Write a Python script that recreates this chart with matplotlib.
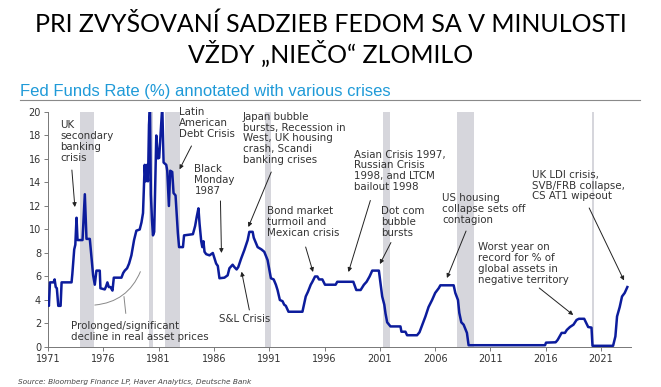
import matplotlib
matplotlib.use("Agg")
import matplotlib.pyplot as plt
from matplotlib.lines import Line2D

# Fed funds rate (%)
years = [1971.00, 1971.08, 1971.18, 1971.50, 1971.60, 1971.70, 1971.80, 1971.93, 1972.14, 1972.23,
         1973.13, 1973.20, 1973.28, 1973.37, 1973.47, 1973.58, 1973.67, 1974.12, 1974.33, 1974.48,
         1974.78, 1974.90, 1975.08, 1975.23, 1975.38, 1975.68, 1975.74, 1976.13, 1976.25, 1976.37,
         1976.50, 1976.65, 1976.83, 1976.95, 1977.64, 1977.80, 1977.94, 1978.15, 1978.33, 1978.54,
         1978.78, 1978.99, 1979.29, 1979.45, 1979.59, 1979.74, 1979.83, 1979.95, 1980.04, 1980.13,
         1980.22, 1980.30, 1980.40, 1980.49, 1980.60, 1980.79, 1980.94, 1981.05, 1981.33, 1981.45,
         1981.69, 1981.78, 1981.93, 1982.05, 1982.23, 1982.35, 1982.53, 1982.74, 1982.85, 1983.20,
         1983.30, 1984.10, 1984.30, 1984.45, 1984.60, 1984.70, 1984.85, 1984.95, 1985.05, 1985.15,
         1985.30, 1985.60, 1985.90, 1986.20, 1986.35, 1986.50, 1986.95, 1987.24, 1987.40, 1987.69,
         1987.85, 1988.05, 1988.20, 1988.45, 1988.75, 1989.05, 1989.20, 1989.50, 1989.60, 1989.95,
         1990.30, 1990.55, 1990.85, 1991.15, 1991.40, 1991.60, 1991.75, 1991.96, 1992.20, 1992.35,
         1992.50, 1992.74, 1994.00, 1994.30, 1994.50, 1994.75, 1994.90, 1995.14, 1995.35, 1995.50,
         1995.80, 1996.04, 1997.00, 1997.15, 1998.60, 1998.87, 1999.26, 1999.56, 1999.80, 2000.07,
         2000.31, 2000.91, 2001.06, 2001.21, 2001.40, 2001.51, 2001.66, 2001.96, 2002.86, 2002.95,
         2003.31, 2003.46, 2004.36, 2004.58, 2004.80, 2005.12, 2005.40, 2005.72, 2006.00, 2006.32,
         2006.47, 2007.67, 2007.82, 2008.06, 2008.18, 2008.36, 2008.57, 2008.87, 2009.02, 2015.93,
         2016.02, 2016.89, 2017.07, 2017.25, 2017.43, 2017.73, 2017.90, 2018.18, 2018.50, 2018.78,
         2018.99, 2019.47, 2019.68, 2019.83, 2020.13, 2020.22, 2022.08, 2022.29, 2022.44, 2022.68,
         2022.89, 2023.13, 2023.37]
rate = [4.1, 3.5, 5.5, 5.5, 5.75, 5.1, 5.0, 3.5, 3.5, 5.5,
        5.5, 6.2, 7.2, 8.3, 8.7, 11.0, 9.1, 9.1, 13.0, 9.2,
        9.2, 8.0, 6.1, 5.3, 6.5, 6.5, 5.0, 4.9, 5.15, 5.5,
        5.1, 5.1, 4.8, 5.9, 5.9, 6.3, 6.5, 6.7, 7.1, 7.8,
        9.1, 9.9, 10.0, 10.6, 11.4, 15.5, 14.1, 15.5, 14.1, 18.9,
        20.5, 13.0, 10.8, 9.5, 9.8, 18.0, 16.05, 16.1, 20.5, 15.7,
        15.5, 15.0, 12.0, 15.0, 14.9, 13.1, 12.9, 9.7, 8.5, 8.5,
        9.5, 9.6, 10.3, 11.1, 11.8, 10.5, 9.0, 8.5, 9.0, 8.1,
        7.9, 7.8, 8.0, 7.1, 6.9, 5.85, 5.9, 6.1, 6.7, 7.0,
        6.8, 6.6, 6.8, 7.5, 8.25, 9.1, 9.8, 9.8, 9.3, 8.5,
        8.3, 8.1, 7.4, 5.85, 5.75, 5.3, 4.85, 4.0, 3.9, 3.6,
        3.5, 3.0, 3.0, 4.3, 4.7, 5.3, 5.55, 6.0, 6.0, 5.75,
        5.75, 5.3, 5.3, 5.55, 5.55, 4.85, 4.85, 5.3, 5.55, 6.0,
        6.5, 6.5, 5.4, 4.3, 3.6, 2.85, 2.1, 1.75, 1.75, 1.3,
        1.3, 1.0, 1.0, 1.25, 1.8, 2.6, 3.4, 4.0, 4.6, 5.0,
        5.25, 5.25, 4.6, 4.0, 2.9, 2.1, 1.9, 1.2, 0.15, 0.15,
        0.37, 0.4, 0.6, 0.9, 1.2, 1.2, 1.45, 1.7, 1.9, 2.3,
        2.4, 2.4, 2.0, 1.7, 1.65, 0.1, 0.1, 0.9, 2.6, 3.4,
        4.3, 4.6, 5.1]

# US recessions (grey bars)
rec_start = [1973.9, 1980.1, 1981.6, 1990.6, 2001.3, 2008.0, 2020.2]
rec_end = [1975.2, 1980.5, 1982.9, 1991.2, 2001.9, 2009.5, 2020.4]

xticks = [1971, 1976, 1981, 1986, 1991, 1996, 2001, 2006, 2011, 2016, 2021]
yticks = list(range(0, 21, 2))

title_lines = ["PRI ZVYŠOVANÍ SADZIEB FEDOM SA V MINULOSTI", "VŽDY „NIEČO“ ZLOMILO"]

# label text, text position (left, middle), arrow tail, arrow head
notes = [
    ("UK\nsecondary\nbanking\ncrisis", (1972.08, 17.49), (1973.16, 15.06), (1973.43, 11.91)),
    ("Latin\nAmerican\nDebt Crisis", (1982.80, 19.05), (1983.97, 17.11), (1982.89, 15.12)),
    ("Black\nMonday\n1987", (1984.24, 14.19), (1986.59, 12.43), (1986.68, 8.0)),
    ("Japan bubble\nbursts, Recession in\nWest, UK housing\ncrash, Scandi\nbanking crises",
     (1988.59, 17.76), (1991.18, 14.89), (1989.11, 10.21)),
    ("Bond market\nturmoil and\nMexican crisis", (1990.82, 10.63), (1994.29, 8.51), (1994.96, 6.38)),
    ("Asian Crisis 1997,\nRussian Crisis\n1998, and LTCM\nbailout 1998",
     (1998.66, 14.99), (2000.14, 12.47), (1998.16, 6.38)),
    ("Dot com\nbubble\nbursts", (2001.12, 10.63), (2002.0, 8.89), (2001.0, 7.06)),
    ("US housing\ncollapse sets off\ncontagion", (2006.61, 11.74), (2008.79, 9.87), (2007.06, 5.87)),
    ("Worst year on\nrecord for % of\nglobal assets in\nnegative territory",
     (2009.86, 7.09), (2015.41, 5.02), (2018.48, 2.72)),
    ("UK LDI crisis,\nSVB/FRB collapse,\nCS AT1 wipeout", (2014.78, 13.73), (2019.92, 11.83), (2023.07, 5.66)),
    ("S&L Crisis", (1986.50, 2.36), (1989.2, 3.15), (1988.5, 6.41)),
]

fig = plt.figure(figsize=(6.61, 3.87), dpi=100)
ax = fig.add_axes([0.0726, 0.1034, 0.882, 0.6072])

for s, e in zip(rec_start, rec_end):
    ax.axvspan(s, e, color="#d6d6dc", lw=0, zorder=0)

ax.plot(years, rate, color="#0c1c9c", lw=1.8, zorder=3)

ax.set_xlim(1971, 2023.7)
ax.set_ylim(0, 20)
ax.set_xticks(xticks)
ax.set_yticks(yticks)
ax.tick_params(labelsize=7, length=3, width=0.6, color="#666", labelcolor="#333", pad=2)
for sp in ["top", "right"]:
    ax.spines[sp].set_visible(False)
for sp in ["left", "bottom"]:
    ax.spines[sp].set_color("#777")
    ax.spines[sp].set_linewidth(0.7)

for txt, pos, tail, head in notes:
    ax.text(pos[0], pos[1], txt, fontsize=7.4, color="#333", ha="left", va="center",
            linespacing=1.1, zorder=4)
    ax.annotate("", xy=head, xytext=tail,
                arrowprops=dict(arrowstyle="-|>", color="#222", lw=0.7,
                                mutation_scale=6, shrinkA=0, shrinkB=0))

# asset price decline note with its curved bracket
ax.text(1973.07, 1.34, "Prolonged/significant\ndecline in real asset prices", fontsize=7.4,
        color="#333", ha="left", va="center", linespacing=1.1)
ax.annotate("", xy=(1979.35, 6.41), xytext=(1975.23, 3.57),
            arrowprops=dict(arrowstyle="-", color="#888", lw=0.7,
                            connectionstyle="arc3,rad=0.3", shrinkA=0, shrinkB=0))
ax.plot([1977.87, 1978.03], [4.28, 2.87], color="#888", lw=0.7)

# headings, centred on the slide
fig.text(0.5, 0.918, title_lines[0], fontsize=18, family="Lato",
         ha="center", va="baseline", color="black")
fig.text(0.5, 0.837, title_lines[1], fontsize=18, family="Lato",
         ha="center", va="baseline", color="black")

fig.text(0.030, 0.752, "Fed Funds Rate (%) annotated with various crises", fontsize=12,
         family="Liberation Sans", color="#1f9ad8", va="baseline")
fig.add_artist(Line2D([0.030, 0.968], [0.742, 0.742], color="#8a8a8a", lw=0.8))
fig.text(0.027, 0.009, "Source: Bloomberg Finance LP, Haver Analytics, Deutsche Bank",
         fontsize=5.3, style="italic", color="#444", va="baseline")

fig.savefig("out.png", dpi=100)
